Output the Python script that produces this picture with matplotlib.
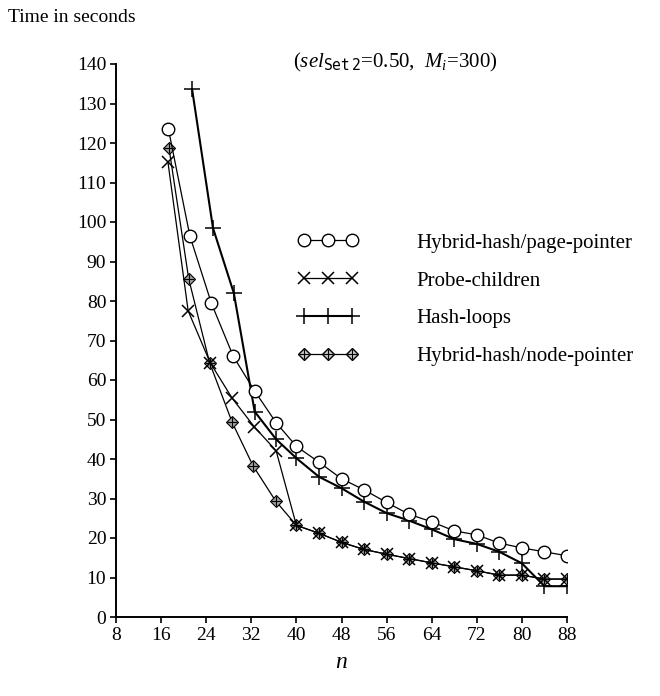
import matplotlib
matplotlib.use("Agg")
import matplotlib.pyplot as plt
from matplotlib.lines import Line2D
from matplotlib.legend_handler import HandlerTuple

plt.rcParams['font.family'] = ['Liberation Serif', 'DejaVu Serif']
plt.rcParams['mathtext.fontset'] = 'custom'
plt.rcParams['mathtext.rm'] = 'Liberation Serif'
plt.rcParams['mathtext.it'] = 'Liberation Serif:italic'
plt.rcParams['mathtext.tt'] = 'DejaVu Sans Mono'

# ---- data ----
x_ticks = [8, 16, 24, 32, 40, 48, 56, 64, 72, 80, 88]
y_ticks = [0, 10, 20, 30, 40, 50, 60, 70, 80, 90, 100, 110, 120, 130, 140]

n_tail = [40, 44, 48, 52, 56, 60, 64, 68, 72, 76, 80, 84, 88]

n_page = [17.3, 21.1, 24.9, 28.8, 32.6, 36.4] + n_tail
t_page = [123.5, 96.5, 79.5, 66.0, 57.2, 49.2,
          43.2, 39.2, 35.0, 32.2, 29.0, 26.0, 24.1, 21.8, 20.8, 18.7, 17.5, 16.5, 15.5]

n_probe = [17.2, 20.8, 24.7, 28.6, 32.5, 36.4] + n_tail
t_probe = [115.3, 77.5, 64.4, 55.4, 48.2, 42.1,
           23.2, 21.2, 18.9, 17.1, 15.9, 14.8, 13.7, 12.7, 11.7, 10.6, 10.6, 9.6, 9.6]

n_hash = [21.5, 25.2, 28.9, 32.6, 36.4] + n_tail
t_hash = [133.6, 98.5, 82.0, 52.0, 45.0,
          40.2, 35.5, 32.6, 29.2, 26.3, 24.4, 22.2, 19.7, 18.5, 16.5, 13.6, 7.8, 7.8]

n_node = [17.4, 20.9, 24.6, 28.6, 32.3, 36.3] + n_tail
t_node = [118.7, 85.6, 64.4, 49.3, 38.3, 29.4,
          23.2, 21.2, 18.9, 17.1, 15.9, 14.8, 13.7, 12.7, 11.7, 10.6, 10.6, 9.6, 9.6]

labels = ["Hybrid-hash/page-pointer", "Probe-children", "Hash-loops",
          "Hybrid-hash/node-pointer"]

# ---- figure ----
fig = plt.figure(figsize=(6.6, 6.96), dpi=100)
ax = fig.add_axes([116/660, 1-617/696, 451/660, 553/696])

ax.plot(n_node, t_node, color='black', lw=0.9, marker='D', ms=6.5,
        mfc='#a0a0a0', mec='black', mew=0.8, zorder=3)
ax.plot(n_node, t_node, ls='none', marker='+', ms=7, mec='black', mew=0.8, zorder=4)
ax.plot(n_probe, t_probe, color='black', lw=0.9, marker='x', ms=9, mew=1.1, zorder=5)
ax.plot(n_hash, t_hash, color='black', lw=1.5, marker='+', ms=11, mew=1.1, zorder=2)
ax.plot(n_page, t_page, color='black', lw=0.9, marker='o', ms=9, mfc='white',
        mec='black', mew=1.0, zorder=6)

ax.set_xlim(8, 88)
ax.set_ylim(0, 140)
ax.set_xticks(x_ticks)
ax.set_yticks(y_ticks)
for s in ['top', 'right']:
    ax.spines[s].set_visible(False)
for s in ['left', 'bottom']:
    ax.spines[s].set_linewidth(1.4)
ax.tick_params(direction='out', length=4, width=1.2, labelsize=14, pad=3)

# legend
h_page = Line2D([], [], color='black', lw=0.9, marker='o', ms=9, mfc='white', mec='black')
h_probe = Line2D([], [], color='black', lw=0.9, marker='x', ms=9, mew=1.1)
h_hash = Line2D([], [], color='black', lw=1.5, marker='+', ms=11, mew=1.1)
h_node1 = Line2D([], [], color='black', lw=0.9, marker='D', ms=6.5, mfc='#c8c8c8', mec='black')
h_node2 = Line2D([], [], ls='none', marker='+', ms=7, mec='black', mew=0.8)
leg = ax.legend([h_page, h_probe, h_hash, (h_node1, h_node2)], labels,
                handler_map={tuple: HandlerTuple(ndivide=1, pad=0)},
                numpoints=3, frameon=False, fontsize=15, loc='upper left',
                bbox_to_anchor=(298/660, 1-233/696), bbox_transform=fig.transFigure,
                borderpad=0, borderaxespad=0, handlelength=2.9, handletextpad=2.8,
                labelspacing=0.88)

fig.text(8/660, 1-18/696, "Time in seconds", fontsize=14, ha='left', va='center')
fig.text(395/660, 1-62/696,
         r"$(\mathit{sel}_{\mathtt{Set\,2}}$=0.50,  $M_i$=300)",
         fontsize=15, ha='center', va='center')
fig.text(341/660, 1-662/696, r"$n$", fontsize=17, ha='center', va='center')

fig.savefig("out.png", dpi=100)
